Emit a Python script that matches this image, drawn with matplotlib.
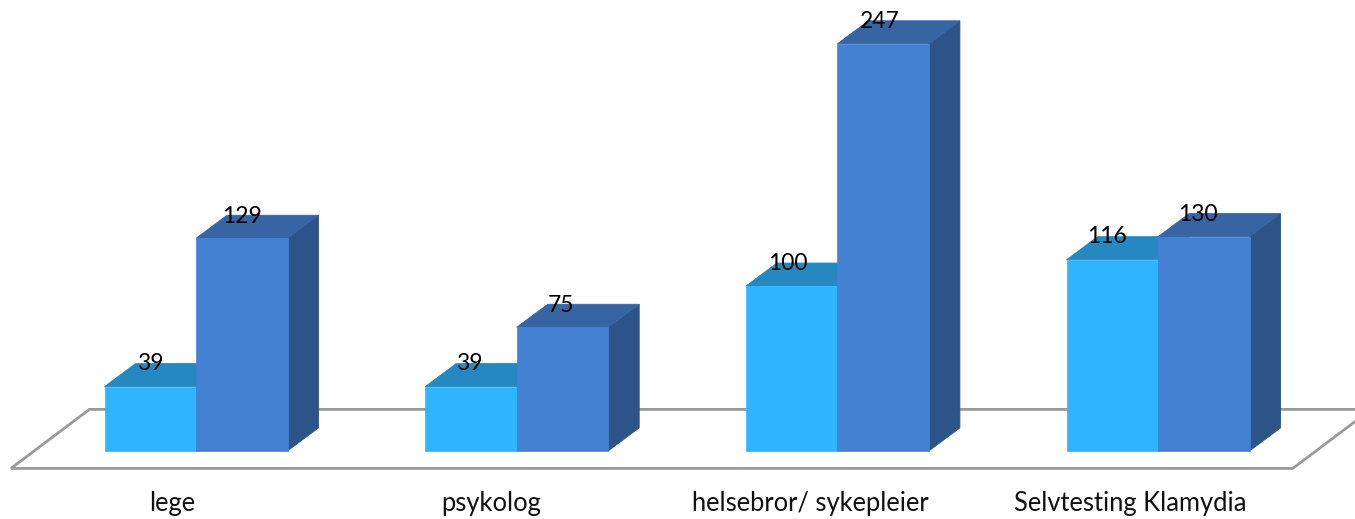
import matplotlib.pyplot as plt
from matplotlib.patches import Polygon

categories = ["lege", "psykolog", "helsebror/ sykepleier", "Selvtesting Klamydia"]
series_a = [39, 39, 100, 116]
series_b = [129, 75, 247, 130]

W, H = 1355, 519
bar_w = 0.2853
depth_x = 0.0967
depth_y = 14.0

plt.rcParams["font.family"] = ["Lato", "DejaVu Sans"]

fig = plt.figure(figsize=(W / 100, H / 100), dpi=100)
ax = fig.add_axes([0, 0, 1, 1])
ax.set_xlim(-0.6112, 3.614)
ax.set_ylim(-41.3, 273.6)
ax.axis("off")

# floor of the 3d chart
floor_front = -10.6
floor_x0, floor_x1 = -0.577, 3.42
floor_skew = 0.2445
floor = Polygon(
    [
        (floor_x0, floor_front),
        (floor_x0 + floor_skew, depth_y + 11.2),
        (floor_x1 + floor_skew, depth_y + 11.2),
        (floor_x1, floor_front),
    ],
    closed=True, facecolor="white", edgecolor="#9a9a9a", linewidth=2.0, zorder=1,
)
ax.add_patch(floor)


def draw_bar(x, val, front, top, side):
    # side face, top face, then the front
    ax.add_patch(Polygon(
        [(x + bar_w, 0), (x + bar_w + depth_x, depth_y),
         (x + bar_w + depth_x, val + depth_y), (x + bar_w, val)],
        closed=True, facecolor=side, edgecolor=side, linewidth=0.6, zorder=3,
    ))
    ax.add_patch(Polygon(
        [(x, val), (x + depth_x, val + depth_y),
         (x + bar_w + depth_x, val + depth_y), (x + bar_w, val)],
        closed=True, facecolor=top, edgecolor=top, linewidth=0.6, zorder=3,
    ))
    ax.bar(x, val, width=bar_w, align="edge", color=front, edgecolor=front, linewidth=0.5, zorder=4)


for i, name in enumerate(categories):
    draw_bar(i - bar_w, series_a[i], "#2fb5ff", "#2588c0", "#2588c0")
    draw_bar(i, series_b[i], "#4581d2", "#3764a3", "#2c5488")
    shift = 0.006 * i
    ax.text(i - bar_w / 2 - shift, series_a[i] + 14, str(series_a[i]), ha="center", va="center",
            fontsize=16.5, color="black", zorder=6)
    ax.text(i + bar_w / 2 - shift, series_b[i] + 13.5, str(series_b[i]), ha="center", va="center",
            fontsize=16.5, color="black", zorder=6)
    ax.text(i - 0.075 - 0.004 * i, -32, name, ha="center", va="center",
            fontsize=18.4, color="#111111", zorder=6)

fig.savefig("out.png", dpi=100)
